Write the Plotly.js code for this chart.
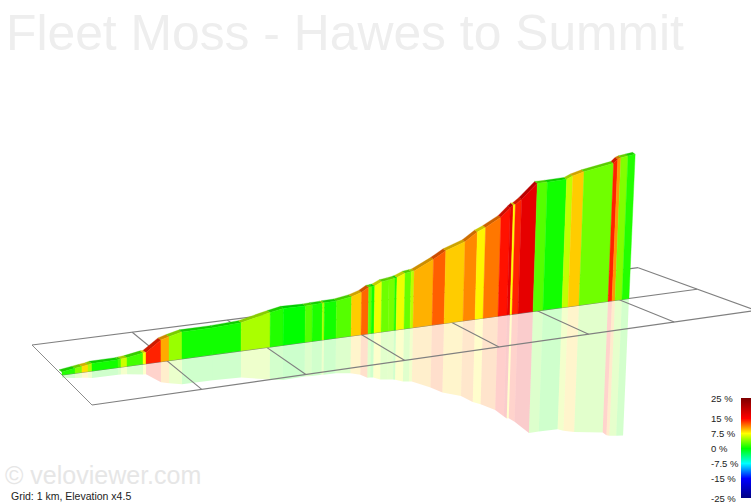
<!DOCTYPE html>
<html>
<head>
<meta charset="utf-8">
<script src="https://cdn.plot.ly/plotly-3.0.1.min.js"></script>
<style>html,body{margin:0;padding:0;background:#fff}#chart{width:751px;height:503px}</style>
</head>
<body>
<div id="chart"></div>
<script>
// ---------- data ----------
var distanceKm = [0,0.121,0.186,0.243,0.280,0.527,0.555,0.613,0.767,0.796,0.941,1.020,1.147,1.455,1.738,2.035,2.170,2.399,2.473,2.579,2.600,2.728,2.889,2.997,3.073,3.106,3.138,3.215,3.292,3.358,3.380,3.468,3.535,3.568,3.781,3.917,4.133,4.271,4.364,4.538,4.643,4.678,4.702,4.773,4.951,5.070,5.299,5.372,5.506,5.864,5.913,5.951,6.038,6.126];
var elevationM = [241.1,245.0,246.9,248.4,250.4,250.8,251.5,252.5,258.1,258.3,280.2,285.1,291.4,292.0,295.0,309.1,314.3,313.5,314.5,315.0,315.5,316.0,321.4,328.3,337.5,338.1,338.8,346.3,348.3,350.5,351.7,358.9,360.8,361.6,382.7,399.0,414.6,433.4,441.9,461.3,480.5,486.6,487.0,497.8,531.3,531.5,534.0,540.3,547.9,561.2,569.8,572.7,575.3,577.9];
var gradientPct = [1,3.8,8.5,5,0.5,2,6,2,7.5,14,10,4.5,0.5,0.5,5,1,0,2.5,0.8,5,0.5,2.5,9,12,3,0.5,7,3.2,3.5,0.8,7,3,5.5,9.8,12.2,9,11,7.8,11.5,14.5,17,7.5,14,17,2.5,0.5,5.7,9,3.3,14,10.5,3.8,1];
var gridKm = [0,1,2,3,4,5,6,7];
var scalePct = [-25,-15,-7.5,0,7.5,15,25];
var scaleLabels = ['-25 %','-15 %','-7.5 %','0 %','7.5 %','15 %','25 %'];
var scaleColours = ['#000080','#0000ff','#00ffff','#00ff00','#ffff00','#ff0000','#800000'];
var scaleSteps = [-25,-22.5,-20,-17.5,-15,-12.5,-10,-7.5,-5,-2.5,0,2.5,5,7.5,10,12.5,15,17.5,20,22.5,25];
var titleText = 'Fleet Moss - Hawes to Summit';
var creditText = '\u00a9 veloviewer.com';
var gridText = 'Grid: 1 km, Elevation x4.5';

// ---------- projection of the oblique view ----------
var PERSP = 0.02695, BASE_M = 235, PX_PER_M = 0.49;
function ground(k, t) {
  var x0 = 62 + 30 * t, y0 = 375 + 30 * t, slope = 0.135 + 0.0075 * t;
  var x = (x0 + (109.5 + 5.7 * t) * k) / (1 + PERSP * k);
  return [x, y0 - slope * (x - x0)];
}
function wall(k, e, dir) {
  var g = ground(k, 0), w = 1 / (1 + PERSP * k);
  var h = (e - BASE_M) * PX_PER_M * w;
  var lean = h * Math.max(0, g[0] - 200) * 1e-4;
  return [g[0] + dir * lean, g[1] - dir * h];
}
function rgbOf(hex) { return [1, 3, 5].map(function (i) { return parseInt(hex.substr(i, 2), 16); }); }
function colourOf(v) {
  var i = 0;
  while (i < scalePct.length - 2 && v > scalePct[i + 1]) i++;
  var f = (v - scalePct[i]) / (scalePct[i + 1] - scalePct[i]);
  var a = rgbOf(scaleColours[i]), b = rgbOf(scaleColours[i + 1]);
  return a.map(function (c, n) { return Math.round(c + (b[n] - c) * f); });
}
function css(c, a) { return 'rgba(' + c.join(',') + ',' + (a === undefined ? 1 : a) + ')'; }
function poly(pts, fill, lineWidth) {
  var xs = pts.map(function (p) { return p[0]; }), ys = pts.map(function (p) { return p[1]; });
  xs.push(pts[0][0]); ys.push(pts[0][1]);
  return { type: 'scatter', mode: 'lines', x: xs, y: ys, fill: 'toself', fillcolor: fill,
           line: { width: lineWidth, color: fill }, hoverinfo: 'skip', showlegend: false };
}
function gridLine(pts, width) {
  return { type: 'scatter', mode: 'lines', x: pts.map(function (p) { return p[0]; }), y: pts.map(function (p) { return p[1]; }),
           line: { color: '#808080', width: width }, hoverinfo: 'skip', showlegend: false };
}

var traces = [], i;
// reflection
var MIRROR = 0.95;
for (i = 0; i < gradientPct.length; i++) {
  var c = colourOf(gradientPct[i]);
  traces.push(poly([ground(distanceKm[i], 0), ground(distanceKm[i + 1], 0),
    wall(distanceKm[i + 1], BASE_M + (elevationM[i + 1] - BASE_M) * MIRROR, -1),
    wall(distanceKm[i], BASE_M + (elevationM[i] - BASE_M) * MIRROR, -1)], css(c, 0.2), 0));
}
// grid
gridKm.forEach(function (k) { traces.push(gridLine([ground(k, -1), ground(k, 1)], k === 0 ? 0.9 : 1.1)); });
[-1, 0, 1].forEach(function (t) { traces.push(gridLine([ground(gridKm[0], t), ground(gridKm[gridKm.length - 1], t)], 1.2)); });
// road surface then wall
for (i = 0; i < gradientPct.length; i++) {
  var col = colourOf(gradientPct[i]);
  var a = wall(distanceKm[i], elevationM[i], 1), b = wall(distanceKm[i + 1], elevationM[i + 1], 1);
  var wa = 1 / (1 + PERSP * distanceKm[i]), wb = 1 / (1 + PERSP * distanceKm[i + 1]);
  traces.push(poly([a, b, [b[0] - 3 * wb, b[1] - 2.2 * wb], [a[0] - 3 * wa, a[1] - 2.2 * wa]],
    css(col.map(function (v) { return Math.round(v * 0.8); })), 0.3));
}
for (i = 0; i < gradientPct.length; i++) {
  traces.push(poly([ground(distanceKm[i], 0), ground(distanceKm[i + 1], 0),
    wall(distanceKm[i + 1], elevationM[i + 1], 1), wall(distanceKm[i], elevationM[i], 1)], css(colourOf(gradientPct[i])), 0.4));
}
// gradient key
traces.push({ type: 'heatmap', xaxis: 'x2', yaxis: 'y2', x: [0, 1], y: scaleSteps,
  z: scaleSteps.map(function (v) { return [v, v]; }), zmin: -25, zmax: 25, zsmooth: 'best', showscale: false, hoverinfo: 'skip',
  colorscale: scalePct.map(function (v, n) { return [(v + 25) / 50, scaleColours[n]]; }) });

var W = 751, H = 503;
var hidden = { visible: false, fixedrange: true };
var annotations = [
  { text: titleText, x: 5, y: 62, font: { family: 'Liberation Sans', size: 49.8, color: '#eeeeee' } },
  { text: creditText, x: 4, y: 490, font: { family: 'Liberation Sans', size: 25, color: '#e6e6e6' } },
  { text: gridText, x: 10, y: 503, font: { family: 'Liberation Sans', size: 10.5, color: '#222222' } }
].map(function (a) {
  a.xref = 'x'; a.yref = 'y'; a.xanchor = 'left'; a.yanchor = 'bottom'; a.showarrow = false; a.borderpad = 0; return a;
});
scalePct.forEach(function (v, n) {
  annotations.push({ text: scaleLabels[n], xref: 'x', yref: 'y2', x: 710, y: v, xanchor: 'left', yanchor: 'middle',
    showarrow: false, borderpad: 0, font: { family: 'Liberation Sans', size: 9.5, color: '#222222' } });
});
var layout = {
  width: W, height: H, margin: { l: 0, r: 0, t: 0, b: 0 }, paper_bgcolor: '#fff', plot_bgcolor: '#fff', showlegend: false,
  xaxis: Object.assign({ range: [0, W], domain: [0, 1] }, hidden),
  yaxis: Object.assign({ range: [H, 0], domain: [0, 1] }, hidden),
  xaxis2: Object.assign({ range: [0, 1], domain: [741 / W, 1], anchor: 'y2' }, hidden),
  yaxis2: Object.assign({ range: [-25, 25], domain: [(H - 498) / H, (H - 398) / H], anchor: 'x2' }, hidden),
  annotations: annotations
};
Plotly.newPlot('chart', traces, layout, { staticPlot: true, displayModeBar: false });
</script>
</body>
</html>
